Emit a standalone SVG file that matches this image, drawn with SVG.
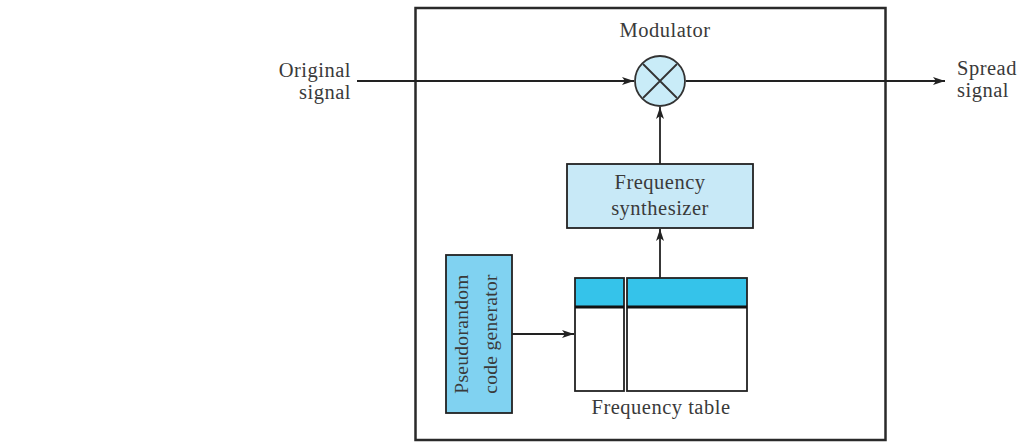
<svg xmlns="http://www.w3.org/2000/svg" width="1018" height="444" viewBox="0 0 1018 444">
  <style>
    .t { font-family: "Liberation Serif", "Times New Roman", serif; font-size: 20.5px; letter-spacing: 0.5px; fill: #3a3a3a; }
    .ln { stroke: #222; stroke-width: 1.8; fill: none; }
    .box { stroke: #222; stroke-width: 1.8; }
  </style>
  <defs>
    <marker id="arr" viewBox="0 0 12 8" refX="12" refY="4" markerWidth="12" markerHeight="8" markerUnits="userSpaceOnUse" orient="auto">
      <path d="M0,0 L12,4 L0,8 L3,4 Z" fill="#222"/>
    </marker>
  </defs>
  <rect width="1018" height="444" fill="#fff"/>

  <g id="modulator">
    <rect x="415.5" y="8" width="470" height="432" fill="none" stroke="#2a2a2a" stroke-width="2.5"/>
    <text class="t" x="665" y="37" text-anchor="middle">Modulator</text>
  </g>

  <g id="original-signal">
    <text class="t" x="351" y="77" text-anchor="end">Original</text>
    <text class="t" x="351" y="99" text-anchor="end">signal</text>
  </g>

  <g id="spread-signal">
    <text class="t" x="957" y="75" text-anchor="start">Spread</text>
    <text class="t" x="957" y="97" text-anchor="start">signal</text>
  </g>

  <g id="multiplier">
    <circle cx="660" cy="81" r="25" fill="#c9ecf8" stroke="#333" stroke-width="1.8"/>
    <path d="M643,64 L677,98 M677,64 L643,98" stroke="#333" stroke-width="1.8"/>
  </g>

  <g id="synthesizer">
    <rect class="box" x="567" y="164" width="186" height="64" fill="#c8e9f7"/>
    <text class="t" x="660" y="189" text-anchor="middle">Frequency</text>
    <text class="t" x="660" y="215" text-anchor="middle">synthesizer</text>
  </g>

  <g id="frequency-table">
    <rect x="575" y="278" width="49" height="29" fill="#35c3ea"/>
    <rect x="627" y="278" width="120" height="29" fill="#35c3ea"/>
    <rect class="box" x="575" y="278" width="49" height="113" fill="none"/>
    <rect class="box" x="627" y="278" width="120" height="113" fill="none"/>
    <line x1="575" y1="307" x2="624" y2="307" stroke="#111" stroke-width="3"/>
    <line x1="627" y1="307" x2="747" y2="307" stroke="#111" stroke-width="3"/>
    <text class="t" x="661" y="414" text-anchor="middle">Frequency table</text>
  </g>

  <g id="pn-generator">
    <rect class="box" x="446" y="255" width="66" height="158" fill="#80d2f1"/>
    <g transform="translate(479,334) rotate(-90)">
      <text class="t" x="0" y="-11" text-anchor="middle" style="font-size:19.5px;letter-spacing:0.3px">Pseudorandom</text>
      <text class="t" x="0" y="18" text-anchor="middle" style="font-size:19.5px;letter-spacing:0.3px">code generator</text>
    </g>
  </g>

  <g id="connectors">
    <line class="ln" x1="357" y1="81" x2="634" y2="81" marker-end="url(#arr)"/>
    <line class="ln" x1="686" y1="81" x2="945" y2="81" marker-end="url(#arr)"/>
    <line class="ln" x1="660" y1="164" x2="660" y2="107" marker-end="url(#arr)"/>
    <line class="ln" x1="660" y1="278" x2="660" y2="229" marker-end="url(#arr)"/>
    <line class="ln" x1="512" y1="334" x2="574" y2="334" marker-end="url(#arr)"/>
  </g>
</svg>
